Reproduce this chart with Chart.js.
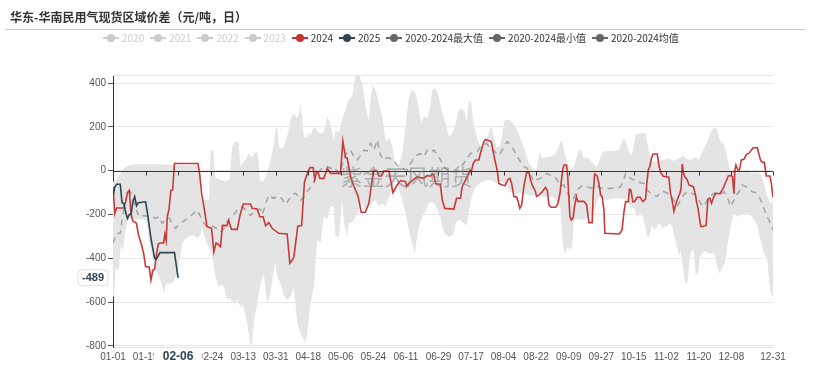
<!DOCTYPE html>
<html>
<head>
<meta charset="utf-8">
<script src="https://cdn.jsdelivr.net/npm/chart.js@4.4.1/dist/chart.umd.min.js"></script>
<style>
  body { margin: 0; background: #fff; }
  #wrap { position: relative; width: 813px; height: 367px; font-family: "Noto Sans CJK SC", "Noto Sans", sans-serif; }
  #c { position: absolute; left: 0; top: 0; }
  .title { position: absolute; left: 10px; top: 8px; font-size: 12px; font-weight: bold; color: #333; }
  .rule { position: absolute; left: 5px; top: 29px; width: 800px; height: 1px; background: #ccc; }
  .legend { position: absolute; left: 103px; top: 31px; display: flex; font-size: 10px; line-height: 14px; color: #333; }
  .item { display: flex; align-items: center; margin-right: 6px; }
  .ic { position: relative; display: inline-block; width: 16px; height: 14px; margin-right: 3px; }
  .ic::before { content: ""; position: absolute; left: 0; right: 0; top: 6px; height: 2px; background: var(--c); }
  .ic i { position: absolute; left: 4px; top: 3px; width: 8px; height: 8px; border-radius: 50%; background: var(--c); }
</style>
</head>
<body>
<div id="wrap">
  <canvas id="c" width="813" height="367"></canvas>
  <div class="title">华东-华南民用气现货区域价差（元/吨，日）</div>
  <div class="rule"></div>
  <div class="legend" id="legend"></div>
</div>
<script>
  // x axis: day of year (2024 is a leap year), ticks every 18 days
  const xTickDays = [0, 18, 36, 54, 72, 90, 108, 126, 144, 162, 180, 198, 216, 234, 252, 270, 288, 306, 324, 342, 365];
  const xTickLabels = ["01-01", "01-19", "02-06", "02-24", "03-13", "03-31", "04-18", "05-06", "05-24", "06-11", "06-29",
    "07-17", "08-04", "08-22", "09-09", "09-27", "10-15", "11-02", "11-20", "12-08", "12-31"];
  const yTicks = [-800, -600, -400, -200, 0, 200, 400];

  const legendNames = ["2020", "2021", "2022", "2023", "2024", "2025", "2020-2024最大值", "2020-2024最小值", "2020-2024均值"];
  const legendColors = ["#ccc", "#ccc", "#ccc", "#ccc", "#c23531", "#2f4554", "#666", "#666", "#666"];
  const legendOff = [true, true, true, true, false, false, false, false, false];

  // [day, value]
  const s2024 = [[0,-73],[1,-195],[2,-170],[6,-170],[7,-140],[8,-100],[9,-90],[10,-200],[11,-230],[13,-240],[14,-290],
    [16,-345],[17,-380],[18,-438],[20,-440],[21,-499],[22,-455],[23,-450],[24,-385],[25,-335],[26,-330],[28,-330],
    [28.7,-290],[29.4,-320],[30,-210],[31,-175],[32,-90],[33,-88],[34,33],[47,33],[48,-20],[49,-105],[50,-150],
    [52,-255],[54.5,-263],[55.8,-370],[57,-330],[58,-335],[59.5,-347],[60.5,-250],[63,-251],[64,-228],[65.5,-268],
    [68.7,-268],[70.2,-205],[72,-152],[76,-152],[77,-172],[79.7,-175],[81.2,-210],[83,-210],[84.4,-251],[86.2,-237],
    [88,-263],[91.7,-286],[96.3,-289],[97.8,-423],[99.1,-408],[100,-395],[102.2,-253],[104.3,-250],[105.9,-50],
    [107.8,-5],[108.9,14],[110.7,14],[111.6,-40],[112.6,-4],[113.5,-10],[114.4,-35],[116.6,-35],[118.5,11],[120.3,-12],
    [125.8,-12],[127.1,135],[128.6,60],[129.5,58],[130.4,18],[131.4,-27],[133.2,-70],[134.7,-100],[135.5,-115],
    [137.3,-190],[139.5,-190],[141.5,-149],[142.8,-73],[143.9,-2],[146.1,-2],[147,-24],[148.5,-24],[149.8,-2],
    [152.6,-2],[154.8,-100],[156.8,-70],[159,-45],[161.8,-50],[162.3,-72],[163.6,-58],[165.5,-45],[168.2,-28],
    [169.2,-30],[171.6,-35],[173.8,-22],[175.6,-25],[176.5,-15],[177.5,-20],[178.4,-60],[181,-62],[182.1,-134],
    [183.5,-172],[188.5,-175],[190,-126],[192.2,-126],[193.1,-73],[195.9,-27],[197.4,3],[198.3,0],[199.2,34],
    [200.5,49],[202.3,49],[203.3,82],[205.1,133],[206,143],[207.9,137],[209.2,133],[210.6,72],[211.6,34],[212.5,0],
    [213.4,-58],[215.2,-65],[216.8,-68],[218.4,-40],[219.5,-35],[220.5,-60],[221.7,-118],[223.2,-120],[223.9,-137],
    [225,-172],[226,-157],[227.2,-73],[228.7,-9],[230,-9],[230.9,-42],[231.8,-65],[233.7,-96],[234.2,-118],
    [235.5,-111],[237.4,-96],[239.2,-76],[240.2,-90],[241.1,-157],[242.4,-167],[244.8,-167],[246,-152],[247.2,-103],
    [248.6,0],[249.4,26],[250.8,26],[251.5,-30],[252.7,-210],[253.5,-225],[254.5,-215],[255.2,-164],[256.3,-118],
    [257,-140],[260.4,-140],[261.9,-155],[263.2,-237],[265,-237],[265.6,-100],[266.4,-15],[267.8,-25],[268.7,-58],
    [269.7,-111],[270.5,-118],[271.5,-180],[272,-286],[280,-289],[281.5,-271],[282.6,-187],[283.5,-141],[285,-141],
    [285.6,-85],[286.4,-88],[287.5,-141],[288.5,-141],[289.8,-122],[291.5,-122],[293,-141],[294.5,-130],[295.2,-60],
    [296,3],[296.8,18],[297.9,61],[298.7,76],[301,76],[302,20],[303,-10],[304.3,-25],[307.4,-30],[308.3,-100],
    [309.3,-140],[310.2,-185],[311,-160],[312,-134],[313.5,-103],[314.2,-80],[314.8,31],[315.5,-10],[316.1,-27],
    [317.5,-40],[318.5,-65],[321,-73],[322.2,-115],[322.8,-146],[323.5,-170],[324.2,-210],[325,-253],[326,-256],
    [328,-250],[329,-130],[330,-125],[331,-149],[332.3,-118],[333.3,-103],[335.7,-105],[337.5,-80],[338.2,-65],
    [340.3,-24],[341.6,-22],[342.6,-27],[343.4,-105],[343.9,3],[344.5,26],[345.6,3],[346.5,5],[347.5,49],[348.9,52],
    [350.4,76],[351.7,79],[353,94],[354.1,105],[356.3,105],[358.2,46],[359.1,38],[360.2,38],[361.3,-24],[363.3,-24],
    [364.2,-65],[365,-122]];

  const s2025 = [[0,-118],[1,-75],[2,-62],[4,-62],[5,-146],[6,-150],[7,-190],[8,-218],[9,-200],[10,-200],[11,-140],
    [12,-118],[13,-160],[14,-146],[18,-142],[19,-190],[21,-309],[23,-400],[24,-404],[26,-374],[34,-374],[36,-489]];

  const sMean = [[0,-330],[1,-310],[2,-286],[4,-286],[5,-225],[6,-180],[8,-103],[9.7,-96],[11,-130],[12.4,-164],
    [14.3,-210],[17,-205],[19.8,-210],[21.7,-210],[23.5,-218],[25.4,-210],[27.2,-240],[29.1,-225],[31,-215],
    [32.7,-240],[34.6,-263],[36.4,-248],[38.3,-233],[40.1,-225],[41.9,-210],[44,-200],[45.6,-187],[46.6,-180],
    [48.4,-210],[50.3,-240],[52.1,-256],[54,-250],[55.8,-256],[57.7,-265],[59.5,-280],[61.3,-265],[63.2,-230],
    [65,-210],[66.8,-200],[68.7,-180],[70.5,-165],[72.4,-170],[74.2,-190],[76.1,-205],[78,-185],[79.7,-178],
    [81.6,-175],[82.5,-200],[84,-165],[85.3,-130],[86.2,-111],[88.6,-126],[91.7,-115],[93.6,-130],[95.4,-155],
    [97,-135],[98.2,-120],[99.7,-106],[100.9,-103],[102.8,-118],[103.7,-135],[105.6,-120],[107.4,-95],[108.9,-80],
    [110.7,-55],[112.9,-15],[114.8,5],[118.5,20],[120.5,10],[122.1,18],[124.9,-12],[126.5,20],[127.7,49],[129.5,87],
    [131.4,94],[133.2,64],[135.1,49],[137,70],[138.7,94],[140.6,90],[142.4,125],[144.3,94],[146.1,140],[147.9,72],
    [149.8,49],[151.6,60],[153.5,55],[155.3,49],[157,25],[159,11],[161,8],[162.7,3],[164.6,34],[166.4,56],[168.2,72],
    [170,78],[171.9,64],[173.8,94],[175.6,85],[177.5,94],[179.3,72],[181.2,49],[183,18],[184.8,3],[186.6,0],
    [188.5,-5],[190.4,-4],[192.2,15],[194,34],[195.9,56],[197.7,79],[199.5,80],[201.4,87],[203.3,110],[205.1,117],
    [206.5,125],[207.9,110],[208.8,94],[210.7,92],[212.5,72],[214.3,80],[216.2,110],[218,133],[219.9,117],[221.7,94],
    [223.6,64],[225.4,41],[227.3,18],[229.1,11],[231,-20],[232.7,-50],[234.5,-40],[236.4,-35],[238.3,-25],
    [240.1,-12],[242,-22],[244,-25],[245.7,-42],[247.5,-70],[249.3,-65],[251.2,-96],[253,-134],[254.9,-126],
    [256.7,-88],[258.5,-75],[260.4,-65],[262.3,-73],[264.1,-80],[265.9,-73],[267.7,-70],[269.6,-80],[271.5,-80],
    [273.3,-82],[275.2,-80],[277,-80],[278.8,-80],[280.7,-73],[282.5,-40],[283.5,-12],[284.8,-20],[286.2,-35],
    [288,-42],[289.9,-50],[291.8,-55],[293.6,-58],[295.4,-88],[297.3,-103],[299.1,-110],[301,-118],[302.8,-96],
    [304.6,-95],[306.5,-103],[308.3,-111],[310.2,-135],[312,-164],[313.9,-134],[315.7,-110],[317.6,-96],[319.4,-100],
    [321.2,-108],[323.1,-118],[325,-149],[326.8,-164],[328.6,-134],[330.5,-115],[332.3,-103],[334.2,-105],[336,-108],
    [337.9,-96],[339.7,-120],[341.5,-164],[343.4,-134],[344.8,-110],[346.2,-96],[348,-65],[349.9,-72],[351.7,-80],
    [353.5,-96],[355.4,-100],[357.2,-118],[359.1,-149],[360.9,-195],[362.7,-225],[364.6,-263],[365,-271]];

  const sMax = [[0,-50],[2,-40],[4,-15],[6,10],[8,20],[10,28],[14,30],[20,30],[26,30],[30,28],[34,25],[40,25],[46,25],
    [47.5,20],[48.5,-125],[51,-135],[53,-130],[54,90],[55.5,95],[56.5,-30],[59,-40],[62,-50],[64.5,-40],[65.9,110],
    [67.8,133],[69.5,130],[70.5,18],[72,40],[73.3,49],[75.1,79],[77,60],[77.9,79],[79.7,87],[80.5,40],[81.2,-42],
    [82.5,-50],[84.5,-30],[86.75,34],[88,80],[89,125],[90,190],[90.8,201],[91.7,110],[93,100],[94.5,110],[96.3,155],
    [98.2,232],[100,262],[101.5,240],[102.8,254],[103.7,308],[104.5,250],[105.6,155],[107,150],[108.3,171],
    [109.5,165],[111.1,201],[113,180],[115,170],[116.6,178],[118.5,247],[120,220],[122.2,140],[123,186],[125,175],
    [126.5,230],[128.6,277],[130.1,323],[131.4,330],[132.5,350],[134.1,429],[136,437],[137.8,399],[139.7,292],
    [141.5,232],[142.5,330],[143.7,391],[145,370],[146.1,338],[148.9,247],[150.4,155],[151.5,130],[152.6,155],
    [154.5,110],[156.3,3],[158,20],[160,80],[161.8,201],[163.6,338],[165.5,368],[167.4,350],[169.2,277],[170.5,220],
    [172,250],[174,240],[175.5,300],[176.5,368],[178.4,376],[180.2,338],[182.1,262],[183.9,216],[185.8,155],
    [187.5,170],[189,200],[190.2,240],[191.2,277],[193,285],[194.5,270],[195.5,220],[196.7,315],[198,315],[199.1,232],
    [200.5,180],[202,130],[204,110],[206,135],[207.8,171],[208.7,193],[209.6,200],[210.5,150],[212,110],[214,110],
    [215.5,180],[216.5,232],[219.8,232],[221.5,210],[223.5,186],[225.5,140],[227.2,110],[228.5,70],[229.9,34],
    [231,20],[232.5,10],[234,0],[236,87],[237.4,56],[239,60],[241,64],[243,70],[245,80],[246.6,110],[247.5,133],
    [248.4,133],[249.3,94],[250.5,60],[252,15],[253,3],[255,20],[257,80],[257.6,94],[258.6,94],[260.4,56],[262,60],
    [264,49],[266,30],[266.9,18],[268,20],[269.5,60],[270.6,87],[274,90],[276,90],[279.8,94],[281.6,133],[282.6,148],
    [284,120],[285.5,80],[287,70],[288.1,117],[289,163],[290.9,171],[293,172],[294.6,171],[296,100],[297.3,49],
    [299,40],[301,40],[303,45],[305,50],[306.5,56],[308.5,50],[310.5,45],[312.5,55],[314,60],[315,70],[316.7,56],
    [319.4,49],[322,60],[324,49],[325.9,87],[327.7,117],[329.6,155],[331.4,186],[332.3,198],[334,190],[336,133],
    [337.9,117],[339.7,64],[341.2,3],[343,-5],[345,-10],[347,-5],[349,0],[351,-5],[353,-10],[355,-8],[357,-10],
    [358.5,-20],[360,-60],[361.5,-110],[363,-140],[365,-150]];

  const sMin = [[0,-330],[0.5,-575],[1.5,-440],[2.5,-455],[3.5,-440],[4.1,-347],[5.5,-360],[6.9,-271],[8,-230],
    [9.7,-217],[14,-220],[18,-225],[19,-260],[19.8,-316],[21.7,-393],[23.5,-453],[25.4,-484],[26.8,-514],[28.1,-560],
    [29,-530],[30,-515],[32.7,-514],[34,-500],[35.5,-468],[37,-400],[38.3,-332],[40,-310],[42,-301],[44,-296],
    [45.6,-300],[47,-306],[48.4,-290],[49.3,-255],[50.3,-290],[51.2,-316],[53,-350],[54.9,-393],[56.7,-484],
    [58.5,-530],[59.5,-520],[61.3,-530],[63.1,-590],[64.5,-580],[66.8,-606],[68.5,-590],[70.5,-621],[72,-615],
    [74.2,-697],[76.1,-803],[77,-790],[77.9,-682],[79.5,-620],[81.6,-514],[83.4,-469],[85.3,-606],[87,-560],
    [88.96,-453],[89.8,-420],[90.8,-484],[92.7,-514],[94.5,-570],[96.3,-590],[98,-580],[100,-530],[101.9,-697],
    [103.7,-742],[105.6,-773],[106.5,-780],[107.4,-742],[109.2,-606],[111.1,-530],[112.9,-316],[114.8,-330],
    [116.6,-210],[118.5,-220],[120.3,-164],[122,-160],[123,-301],[125,-300],[126.7,-134],[128,-250],[129.5,-301],
    [130.4,-240],[132,-240],[134.1,-210],[136,-180],[137.8,-149],[139.5,-180],[141,-165],[143.3,-149],[145,-135],
    [147,-160],[149,-150],[150.7,-164],[152.5,-120],[154.4,-88],[156.3,-27],[157.5,-60],[158.5,-100],[159.9,-134],
    [161.8,-195],[163.6,-271],[165.5,-332],[166.9,-377],[168.2,-301],[169.5,-250],[171,-210],[173,-180],[174.7,-149],
    [176.5,-140],[178.4,-160],[180.2,-195],[181.5,-225],[182.1,-255],[183.5,-290],[185.5,-300],[188,-295],[190,-230],
    [192,-225],[194,-240],[195.5,-250],[197,-180],[198.5,-118],[200.5,-73],[203,-55],[206,-45],[209,-42],[212.5,-60],
    [214,-50],[217,-60],[220,-100],[223,-105],[226,-100],[229,-110],[232,-115],[235,-100],[238,-120],[241,-115],
    [244,-125],[245.7,-150],[246.6,-134],[247.5,-180],[248.4,-286],[249.3,-362],[250.3,-377],[251.2,-347],[253,-360],
    [254,-347],[254.9,-225],[257,-220],[260.4,-225],[263,-210],[265.9,-195],[267.8,-134],[269,-120],[271,-130],
    [273.3,-134],[276,-128],[279,-125],[282,-128],[284,-132],[286.2,-164],[288,-170],[289.9,-210],[291.5,-200],
    [293,-210],[294.5,-256],[295.4,-301],[296.5,-300],[298,-255],[300,-270],[302,-240],[304,-260],[306,-255],
    [308,-240],[309.5,-260],[310.5,-300],[312,-347],[313,-393],[314,-360],[315.7,-469],[316.6,-514],[317.6,-514],
    [318.5,-440],[319.4,-377],[321,-355],[322.2,-469],[323.5,-470],[324.5,-395],[325.5,-380],[327,-365],[329,-375],
    [331,-380],[332.5,-375],[334.2,-438],[335.5,-470],[337,-440],[338.5,-420],[339.7,-347],[341.5,-256],[343.4,-195],
    [345,-210],[347,-200],[349,-195],[350.8,-195],[352.5,-205],[354,-215],[356,-245],[358.1,-316],[360,-377],
    [361.8,-408],[362.7,-484],[363.7,-560],[364.6,-575],[365,-575]];

  const pointerDay = 36;
  const pointerLabel = "02-06";
  const pointerValue = s2025[s2025.length - 1][1];

  // legend (html)
  const legendBox = document.getElementById("legend");
  legendNames.forEach((name, i) => {
    const item = document.createElement("span");
    item.className = "item";
    item.innerHTML = '<span class="ic" style="--c:' + legendColors[i] + '"><i></i></span><span>' + name + "</span>";
    if (legendOff[i]) item.style.color = "#ccc";
    legendBox.appendChild(item);
  });

  const pts = (arr) => arr.map(([x, y]) => ({ x, y }));

  const overlay = {
    id: "overlay",
    afterDraw(chart) {
      const { ctx, chartArea: a, scales: { x, y } } = chart;
      ctx.save();
      // top border of grid
      ctx.strokeStyle = "#e6e6e6";
      ctx.lineWidth = 1;
      ctx.beginPath();
      ctx.moveTo(a.left, a.top + 0.5);
      ctx.lineTo(a.right, a.top + 0.5);
      ctx.stroke();

      // zero axis with ticks
      const y0 = Math.round(y.getPixelForValue(0)) + 0.5;
      ctx.strokeStyle = "#333";
      ctx.beginPath();
      ctx.moveTo(a.left, y0);
      ctx.lineTo(a.right, y0);
      xTickDays.forEach((d) => {
        const px = Math.round(x.getPixelForValue(d)) + 0.5;
        ctx.moveTo(px, y0);
        ctx.lineTo(px, y0 + 4);
      });
      ctx.stroke();

      // watermark
      ctx.font = '22px "Noto Sans CJK SC"';
      ctx.fillStyle = "rgba(120,120,120,0.5)";
      ctx.textAlign = "center";
      ctx.textBaseline = "middle";
      ctx.fillText("紫金天风期货", chart.width / 2, 177);

      // axis pointer label on y
      const py = y.getPixelForValue(pointerValue);
      ctx.font = 'bold 11px "Liberation Sans"';
      const tw = ctx.measureText(String(pointerValue)).width;
      const bx = a.left - 5 - tw - 8;
      ctx.beginPath();
      ctx.roundRect(bx, py - 8, tw + 8, 16, 4);
      ctx.fillStyle = "#fff";
      ctx.fill();
      ctx.strokeStyle = "#ddd";
      ctx.stroke();
      ctx.fillStyle = "#2f4554";
      ctx.fillText(String(pointerValue), bx + (tw + 8) / 2, py);

      // axis pointer label on x
      const px = x.getPixelForValue(pointerDay);
      ctx.font = 'bold 12px "Liberation Sans"';
      const lw = ctx.measureText(pointerLabel).width;
      ctx.fillStyle = "#fff";
      ctx.fillRect(px - lw / 2 - 9, a.bottom + 2, lw + 18, 17);
      ctx.fillStyle = "#2f4554";
      ctx.fillText(pointerLabel, px, a.bottom + 10);
      ctx.restore();
    },
  };

  const ctx = document.getElementById("c").getContext("2d");
  new Chart(ctx, {
    type: "line",
    data: {
      datasets: [
        { label: "2025", data: pts(s2025), borderColor: "#2f4554", borderWidth: 1.6, order: 0 },
        { label: "2024", data: pts(s2024), borderColor: "#c9393a", borderWidth: 1.6, order: 1 },
        { label: "2020-2024均值", data: pts(sMean), borderColor: "#a3a3a3", borderWidth: 1.5, borderDash: [6, 5], order: 2 },
        { label: "2020-2024最大值", data: pts(sMax), borderWidth: 0, borderColor: "rgba(0,0,0,0)", backgroundColor: "#e4e4e4", fill: "+1", order: 3 },
        { label: "2020-2024最小值", data: pts(sMin), borderWidth: 0, borderColor: "rgba(0,0,0,0)", order: 4 },
      ],
    },
    options: {
      responsive: false,
      animation: false,
      devicePixelRatio: 1,
      layout: { padding: { top: 75, right: 40, left: 0, bottom: 0 } },
      elements: { point: { radius: 0 }, line: { tension: 0 } },
      plugins: { legend: { display: false }, tooltip: { enabled: false } },
      scales: {
        x: {
          type: "linear",
          min: 0,
          max: 365,
          afterBuildTicks: (s) => { s.ticks = xTickDays.map((v) => ({ value: v })); },
          afterFit: (s) => { s.height = 20; },
          grid: { display: false, drawTicks: false },
          border: { display: true, color: "#e6e6e6" },
          ticks: {
            autoSkip: false,
            maxRotation: 0,
            padding: 4,
            color: "#555",
            font: { size: 10, family: "Liberation Sans" },
            callback: (v) => xTickLabels[xTickDays.indexOf(v)],
          },
        },
        y: {
          min: -805,
          max: 437,
          afterBuildTicks: (s) => { s.ticks = yTicks.map((v) => ({ value: v })); },
          afterFit: (s) => { s.width = 113; },
          grid: { color: "#e8e8e8", tickColor: "#555", tickLength: 5 },
          border: { display: true, color: "#333" },
          ticks: { padding: 2, color: "#555", font: { size: 10, family: "Liberation Sans" } },
        },
      },
    },
    plugins: [overlay],
  });
</script>
</body>
</html>
